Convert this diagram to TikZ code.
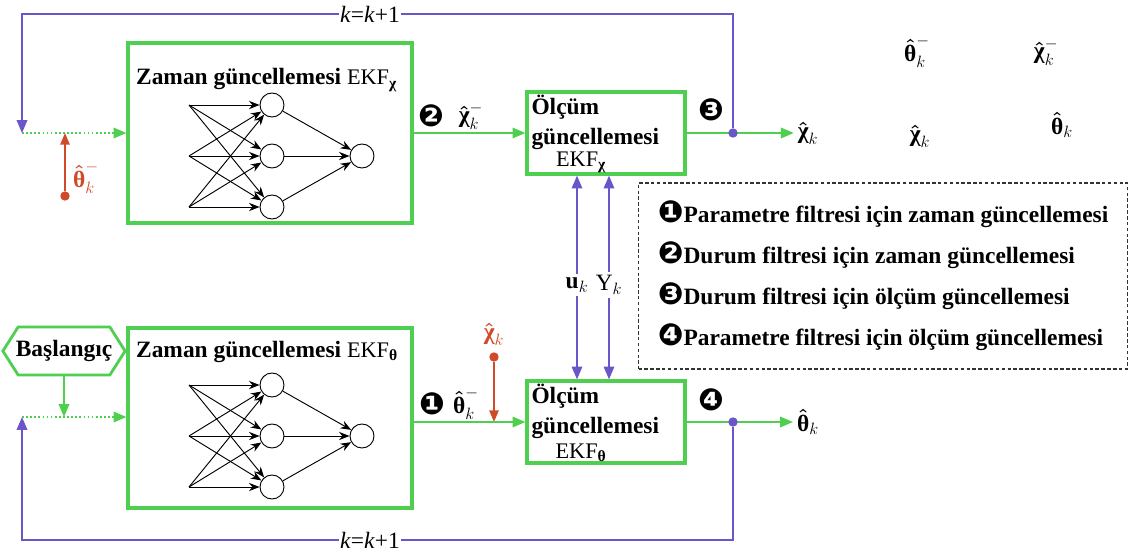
\documentclass[tikz,border=0pt]{standalone}
\usepackage{fix-cm}
\usepackage{amsmath,amssymb}
\usepackage{fontspec}
\setmainfont{Liberation Serif}
\newfontfamily\dingfont{DejaVu Sans}
\usepackage{tikz}
\usetikzlibrary{positioning,calc,arrows.meta,shapes.symbols}
\definecolor{boxgreen}{HTML}{4FCF4F}
\definecolor{loopviolet}{HTML}{6A55C9}
\definecolor{initred}{HTML}{D04A2A}
\newcommand{\thetahat}{\boldsymbol{\hat{\text{\bfseries θ}}}}
\newcommand{\chihat}{\boldsymbol{\hat{\text{\bfseries χ}}}}
\newcommand{\bul}[1]{{\dingfont\fontsize{26}{26}\selectfont #1}}

\begin{document}
\begin{tikzpicture}[x=0.03cm, y=-0.03cm,
  font=\fontsize{20}{24}\selectfont\bfseries,
  bigbox/.style={draw=boxgreen, line width=2.7pt, minimum width=8.52cm, minimum height=5.4cm},
  olcbox/.style={draw=boxgreen, line width=2.7pt, minimum width=4.74cm, minimum height=2.46cm},
  neuron/.style={circle, draw, line width=0.8pt, minimum size=0.72cm, inner sep=0pt},
  nnarrow/.style={-{Stealth[length=9pt,width=7pt]}, line width=0.8pt},
  garrow/.style={boxgreen, line width=1.5pt, -{Triangle[length=11pt,width=9pt]}},
  gdots/.style={garrow, dotted, line width=1.6pt},
  parrow/.style={loopviolet, line width=1.4pt, -{Triangle[length=11pt,width=9pt]}},
  pline/.style={loopviolet, line width=1.4pt},
  rarrow/.style={initred, line width=1.4pt, -{Triangle[length=10pt,width=8pt]}},
  dotn/.style={circle, fill=#1, inner sep=0pt, minimum size=8pt},
  klabel/.style={fill=white, inner sep=1pt, font=\fontsize{20}{24}\selectfont},
  ekf/.style={font=\fontsize{19}{22}\selectfont},
  legend/.style={draw=black!80, densely dashed, line width=1.1pt, minimum width=14.67cm,
    minimum height=5.58cm, align=left, font=\fontsize{20}{35}\selectfont\bfseries}]
  \useasboundingbox (0,0) rectangle (1132,553);

  % Boxes
  \node[bigbox] (bigtop) at (270,133) {};
  \node[bigbox] (bigbot) at (270,418) {};
  \node[olcbox] (olctop) at (606,133) {};
  \node[olcbox] (olcbot) at (606,422) {};

  % Box titles
  \node[anchor=west] (ttop) at (132,80) {Zaman güncellemesi {\mdseries\fontsize{19}{22}\selectfont EKF$_{\text{\bfseries χ}}$}};
  \node[anchor=west] (tbot) at (132,352) {Zaman güncellemesi {\mdseries\fontsize{19}{22}\selectfont EKF$_{\text{\bfseries θ}}$}};
  \node[anchor=north west, align=left, font=\fontsize{20}{25}\selectfont\bfseries, inner sep=2pt]
    (otxt) at ([xshift=3pt,yshift=-2pt]olctop.north west) {Ölçüm\\güncellemesi};
  \node[anchor=north west, align=left, font=\fontsize{20}{25}\selectfont\bfseries, inner sep=2pt]
    (obtxt) at ([xshift=3pt,yshift=-2pt]olcbot.north west) {Ölçüm\\güncellemesi};
  \node[ekf, anchor=south, inner sep=2pt] (ekft) at ([xshift=-0.75cm]olctop.south) {EKF$_{\text{\bfseries χ}}$};
  \node[ekf, anchor=south, inner sep=2pt] (ekfb) at ([xshift=-0.75cm]olcbot.south) {EKF$_{\text{\bfseries θ}}$};

  % Neural nets
  \foreach \nn/\cy in {t/156, b/436} {
    \foreach \j in {1,2,3} {
      \coordinate (\nn in\j) at (189, {\cy+51*(\j-2)});
      \node[neuron] (\nn h\j) at (272, {\cy+51*(\j-2)}) {};
    }
    \node[neuron] (\nn out) at (362, \cy) {};
    \foreach \i in {1,2,3} {
      \foreach \j in {1,2,3} \draw[nnarrow] (\nn in\i) -- (\nn h\j);
      \draw[nnarrow] (\nn h\i) -- (\nn out);
    }
  }

  % Start
  \node[signal, signal to=east and west, signal pointer angle=115, draw=boxgreen, line width=2.4pt,
    minimum height=1.44cm, inner xsep=-2pt, inner ysep=2pt] (start) at (64,351) {Başlangıç};

  % Loop joints
  \coordinate (jtop) at (22,133);
  \coordinate (jbot) at (22,417);
  \draw[gdots] (jtop) -- (jtop -| bigtop.west);
  \draw[gdots] (jbot) -- (jbot -| bigbot.west);
  \draw[garrow] (start.south) -- (start.south |- jbot);

  % Red inputs
  \node[dotn=initred] (rtd) at (65,196) {};
  \draw[rarrow] (rtd) -- (rtd |- jtop);
  \node[text=initred, inner sep=1pt] (rtl) at (86,178) {$\thetahat_k^-$};
  \node[dotn=initred] (rbd) at (494,357) {};
  \draw[rarrow] (rbd) -- (rbd |- olcbot);
  \node[text=initred, inner sep=1pt] (rbl) at (494,334) {$\chihat_k$};

  % Forward paths
  \draw[garrow] (bigtop.east |- olctop) -- (olctop.west);
  \draw[garrow] (bigbot.east |- olcbot) -- (olcbot.west);
  \node (n2) at (431,116) {\bul{❷}};
  \node (x2) at (471,116) {$\chihat_k^-$};
  \node (n1) at (432,404) {\bul{❶}};
  \node (t1) at (466,404) {$\thetahat_k^-$};
  \node (n3) at (711,110) {\bul{❸}};
  \node (n4) at (711,400) {\bul{❹}};

  % Outputs
  \node (outt) at (808,133) {$\chihat_k$};
  \node (outb) at (808,422) {$\thetahat_k$};
  \draw[garrow] (olctop.east) -- (outt.west);
  \draw[garrow] (olcbot.east) -- (outb.west);
  \node[dotn=loopviolet] (dtop) at (733,133) {};
  \node[dotn=loopviolet] (dbot) at (733,422) {};

  % k = k+1 loops
  \node[klabel] (ktop) at (370,14) {\textit{k}=\textit{k}+1};
  \node[klabel] (kbot) at (370,540) {\textit{k}=\textit{k}+1};
  \draw[pline] (dtop) |- (ktop.east);
  \draw[parrow] (ktop.west) -| (jtop);
  \draw[pline] (dbot) |- (kbot.east);
  \draw[parrow] (kbot.west) -| (jbot);

  % Measurements
  \node[inner sep=3pt] (uk) at (577,285) {$\mathbf{u}_k$};
  \node[inner sep=3pt] (yk) at (609,285) {$\mathrm{Y}_k$};
  \draw[parrow] (uk) -- (uk |- olctop.south);
  \draw[parrow] (uk) -- (uk |- olcbot.north);
  \draw[parrow] (yk) -- (yk |- olctop.south);
  \draw[parrow] (yk) -- (yk |- olcbot.north);

  % Loose symbols
  \node (f1) at (917,52) {$\thetahat_k^-$};
  \node (f2) at (1046,52) {$\chihat_k^-$};
  \node (f3) at (920,136) {$\chihat_k$};
  \node (f4) at (1062,125) {$\thetahat_k$};

  % Legend
  \node[legend] (leg) at (883,276) {\bul{❶}Parametre filtresi için zaman güncellemesi\\
    \bul{❷}Durum filtresi için zaman güncellemesi\\
    \bul{❸}Durum filtresi için ölçüm güncellemesi\\
    \bul{❹}Parametre filtresi için ölçüm güncellemesi};
\end{tikzpicture}
\end{document}
